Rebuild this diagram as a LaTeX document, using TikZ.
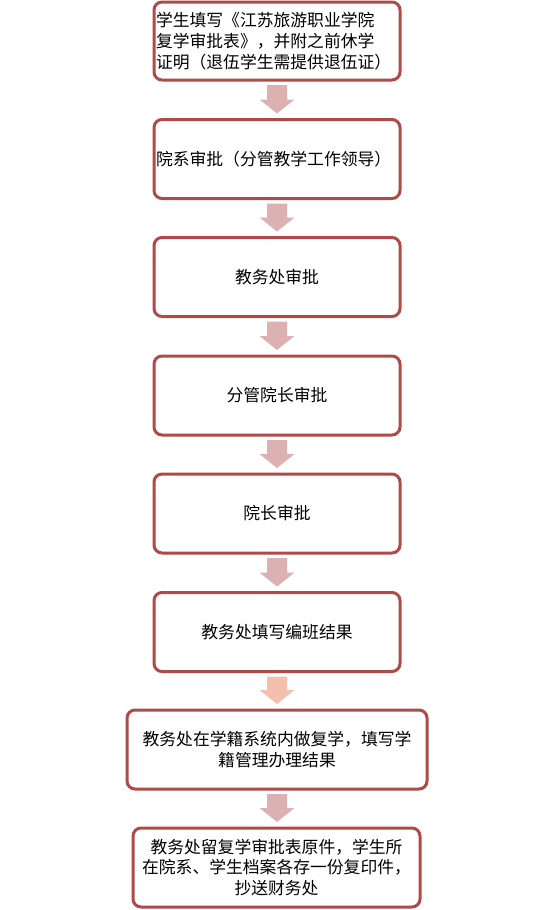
\documentclass[tikz,border=0pt]{standalone}
\usepackage{fontspec}
\setmainfont{Noto Sans CJK SC}
\usetikzlibrary{calc}
\definecolor{boxborder}{RGB}{176,74,72}
\definecolor{arrpink}{RGB}{220,177,177}
\definecolor{arrsalmon}{RGB}{244,192,173}
\newcommand\opn[1]{\makebox[1em][r]{#1}}
\newcommand\cls[1]{\makebox[1em][l]{#1}}
\tikzset{
  box/.style={draw=boxborder, line width=3pt, rounded corners=8pt, fill=white,
    outer sep=0pt, inner sep=0pt, minimum width=246pt, minimum height=79pt,
    font={\fontsize{16.8pt}{20.7pt}\selectfont}, align=center},
  blockarrow/.style={to path={let \p1=(\tikztostart), \p2=(\tikztotarget) in
    (\x1-10pt,\y1-5pt) -- (\x1+10pt,\y1-5pt) -- (\x1+10pt,\y2+20pt) -- (\x1+17.5pt,\y2+20pt)
    -- (\x1,\y2+6pt) -- (\x1-17.5pt,\y2+20pt) -- (\x1-10pt,\y2+20pt) -- cycle}}
}
\begin{document}
\begin{tikzpicture}[x=1pt,y=-1pt]
\fill[white] (0,0) rectangle (553,910);
\useasboundingbox (0,0) rectangle (553,910);
\node[box, minimum height=78pt, text width=242pt, align=left] (b1) at (277,41)
  {学生填写\opn{《}江苏旅游职业学院\\复学审批表\cls{》}\cls{，}并附之前休学\\证明\opn{（}退伍学生需提供退伍证\cls{）}};
\node[box, text width=242pt, align=left] (b2) at (277,159) {院系审批\opn{（}分管教学工作领导\cls{）}};
\node[box] (b3) at (277,277) {教务处审批};
\node[box] (b4) at (277,395.5) {分管院长审批};
\node[box] (b5) at (277,513.5) {院长审批};
\node[box] (b6) at (277,632) {教务处填写编班结果};
\node[box, minimum width=300pt] (b7) at (277,749.5)
  {教务处在学籍系统内做复学\cls{，}填写学\\籍管理办理结果};
\node[box, minimum width=287pt] (b8) at (276.5,867.5)
  {教务处留复学审批表原件\cls{，}学生所\\在院系\cls{、}学生档案各存一份复印件\cls{，}\\抄送财务处};
\fill[arrpink] (b1.south) to[blockarrow] (b2.north);
\fill[arrpink] (b2.south) to[blockarrow] (b3.north);
\fill[arrpink] (b3.south) to[blockarrow] (b4.north);
\fill[arrpink] (b4.south) to[blockarrow] (b5.north);
\fill[arrpink] (b5.south) to[blockarrow] (b6.north);
\fill[arrsalmon] (b6.south) to[blockarrow] (b7.north);
\fill[arrpink] (b7.south) to[blockarrow] (b8.north);
\end{tikzpicture}
\end{document}
